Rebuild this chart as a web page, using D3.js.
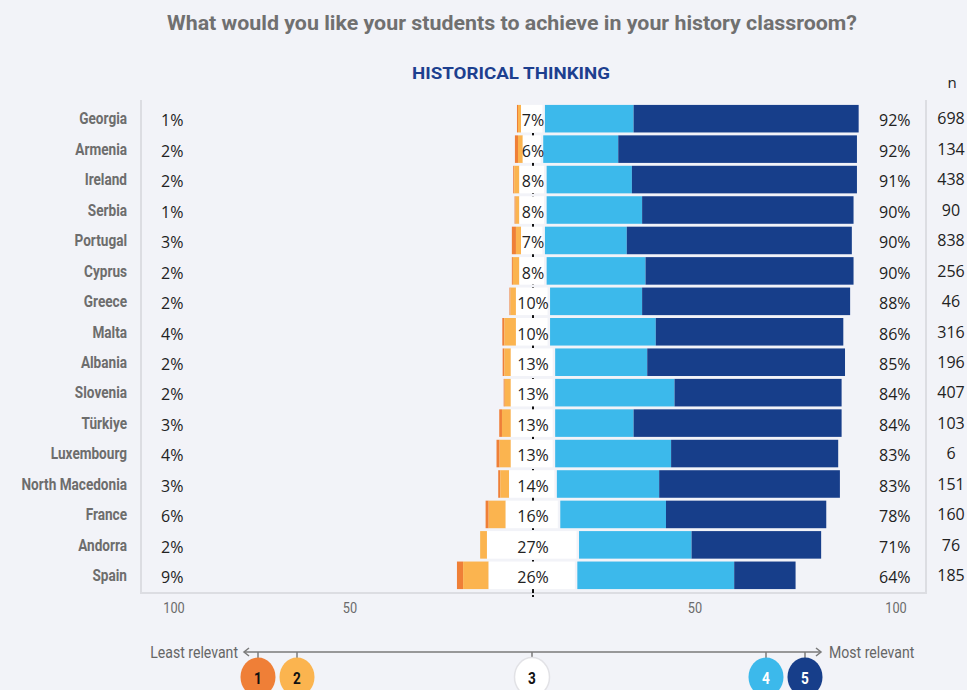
<!DOCTYPE html>
<html>
<head>
<meta charset="utf-8">
<script src="https://cdn.jsdelivr.net/npm/d3@7"></script>
<style>
  html, body { margin: 0; padding: 0; background: #f2f3f8; }
  svg { display: block; }
  .cond { font-family: Roboto, 'Noto Sans', sans-serif; }
  .reg { font-family: 'Open Sans', 'Noto Sans', sans-serif; }
</style>
</head>
<body>
<svg id="chart" width="967" height="690"></svg>
<script>
const countries = ["Georgia","Armenia","Ireland","Serbia","Portugal","Cyprus","Greece","Malta","Albania","Slovenia","Türkiye","Luxembourg","North Macedonia","France","Andorra","Spain"];
const level1 = [0.3,0.9,0.3,0.3,1.2,0.3,0.3,0.6,0.5,0.3,0.8,0.9,0.6,0.9,0,1.8];
const level2 = [0.9,1.4,1.5,1.1,1.5,1.9,1.6,3.4,1.9,1.8,2.6,3.3,2.6,5.0,2.0,7.5];
const level3 = [7,6,8,8,7,8,10,10,13,13,13,13,14,16,27,26];
const level4 = [26,22,25,28,24,29,27,31,27,35,23,34,30,31,33,46];
const level5 = [66,70,66,62,66,61,61,55,58,49,61,49,53,47,38,18];
const nValues = [698,134,438,90,838,256,46,316,196,407,103,6,151,160,76,185];
const tickValues = [-100,-50,50,100];
const tickLabels = ["100","50","50","100"];
const legendLevels = ["1","2","3","4","5"];
const colors = ["#ef7f37","#fbb44f","#ffffff","#3cb9eb","#173e8a"];
const textColors = ["#111","#111","#111","#fff","#fff"];
const title = "What would you like your students to achieve in your history classroom?";
const subtitle = "HISTORICAL THINKING";

const svg = d3.select("#chart");
const W = 967, H = 690;
svg.append("rect").attr("width", W).attr("height", H).attr("fill", "#f2f3f8");

function condText(parent, px, py, anchor, size, weight, fill, txt, sx) {
  return parent.append("text").attr("class","cond")
    .attr("transform", `translate(${px},${py}) scale(${sx},1)`)
    .attr("dy","0.36em").attr("text-anchor", anchor).attr("font-size", size)
    .attr("font-weight", weight).attr("fill", fill).text(txt);
}

const cx = 533, pxPerPct = 3.41;
const x = d3.scaleLinear().domain([-100, 100]).range([cx - 100*pxPerPct, cx + 100*pxPerPct]);
const tickScale = d3.scaleLinear().domain([-100,-50,50,100]).range([174,350,695,896]);
const y = d3.scaleBand().domain(countries).range([104, 590]).paddingInner(0.095).paddingOuter(0.03);

// Title
svg.append("text").attr("class","cond").attr("x", 512).attr("y", 30)
  .attr("text-anchor","middle").attr("font-weight","bold").attr("font-size", 21)
  .attr("fill","#707070").attr("textLength", 690).attr("lengthAdjust","spacingAndGlyphs").text(title);
svg.append("text").attr("class","cond").attr("x", 511).attr("y", 79)
  .attr("text-anchor","middle").attr("font-weight","bold").attr("font-size", 17)
  .attr("fill","#1d3f8f").attr("textLength", 198).attr("lengthAdjust","spacingAndGlyphs").text(subtitle);
svg.append("text").attr("class","reg").attr("x", 952).attr("y", 88)
  .attr("text-anchor","middle").attr("font-size", 15).attr("fill","#222").text("n");

// Panel borders
const panel = svg.append("g").attr("stroke","#dcdde2").attr("stroke-width",2).attr("fill","none");
panel.append("line").attr("x1",141).attr("x2",141).attr("y1",100).attr("y2",593);
panel.append("line").attr("x1",926).attr("x2",926).attr("y1",100).attr("y2",593);
panel.append("line").attr("x1",140).attr("x2",927).attr("y1",593).attr("y2",593);

// center line (behind bars)
svg.append("line").attr("x1", x(0)).attr("x2", x(0)).attr("y1", 105).attr("y2", 597)
  .attr("stroke","#111").attr("stroke-width",2).attr("stroke-dasharray","5,2");

// Bars
const rows = countries.map((c, i) => {
  const v = [level1[i], level2[i], level3[i], level4[i], level5[i]];
  const half = v[2] / 2;
  const segs = [];
  let start = -half - v[1] - v[0];
  v.forEach((val, k) => { segs.push({k, x0: start, x1: start + val}); start += val; });
  return {c, i, v, segs};
});

const g = svg.append("g");
rows.forEach(r => {
  const rowG = g.append("g");
  rowG.selectAll("rect").data(r.segs.filter(s => s.x1 > s.x0)).join("rect")
    .attr("x", s => x(s.x0))
    .attr("width", s => Math.max(0, x(s.x1) - x(s.x0) - (s.k === 2 ? 2.5 : 0)))
    .attr("y", y(r.c)).attr("height", y.bandwidth())
    .attr("fill", s => colors[s.k]);
  const yc = y(r.c) + y.bandwidth()/2;
  rowG.append("text").attr("class","reg").attr("x", x(0)).attr("y", yc + 2).attr("dy","0.36em")
    .attr("text-anchor","middle").attr("font-size",16).attr("fill","#222").text(r.v[2] + "%");
  condText(rowG, 127, yc, "end", 16, "bold", "#6d6d6d", r.c, 0.85);
  rowG.append("text").attr("class","reg").attr("x", 161).attr("y", yc + 2).attr("dy","0.36em")
    .attr("font-size",16).attr("fill","#222").text(Math.round(r.v[0] + r.v[1]) + "%");
  rowG.append("text").attr("class","reg").attr("x", 879).attr("y", yc + 2).attr("dy","0.36em")
    .attr("font-size",16).attr("fill","#222").text(Math.round(r.v[3] + r.v[4]) + "%");
  rowG.append("text").attr("class","reg").attr("x", 951).attr("y", yc).attr("dy","0.36em")
    .attr("text-anchor","middle").attr("font-size",16).attr("fill","#222").text(nValues[r.i]);
});

// Axis tick labels
const tg = svg.append("g");
tickValues.forEach((d, i) => condText(tg, tickScale(d), 608, "middle", 15, "normal", "#6b6b6b", tickLabels[i], 0.85));

// Legend
const legendPos = [258, 297, 532, 766, 805];
const lg = svg.append("g");
lg.append("line").attr("x1", 244).attr("x2", 821).attr("y1", 652).attr("y2", 652)
  .attr("stroke","#7a7a7a").attr("stroke-width",1.5);
lg.append("path").attr("d","M249,648 L244,652 L249,656").attr("fill","none").attr("stroke","#7a7a7a").attr("stroke-width",1.5);
lg.append("path").attr("d","M816,648 L821,652 L816,656").attr("fill","none").attr("stroke","#7a7a7a").attr("stroke-width",1.5);
condText(lg, 238, 652, "end", 16, "normal", "#666", "Least relevant", 0.88);
condText(lg, 829, 652, "start", 16, "normal", "#666", "Most relevant", 0.88);
legendLevels.forEach((lvl, k) => {
  const px = legendPos[k];
  lg.append("line").attr("x1", px).attr("x2", px).attr("y1", 652).attr("y2", 660)
    .attr("stroke","#7a7a7a").attr("stroke-width",1.5);
  lg.append("ellipse").attr("cx", px).attr("cy", 677).attr("rx", 17.5).attr("ry", 19.5)
    .attr("fill", colors[k]).attr("stroke", k === 2 ? "#e2e2e6" : "none").attr("stroke-width", 1.5);
  condText(lg, px, 678, "middle", 16, "bold", textColors[k], lvl, 0.85);
});
</script>
</body>
</html>
